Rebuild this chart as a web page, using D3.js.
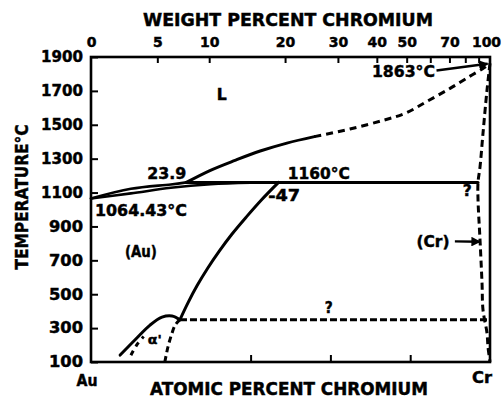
<!DOCTYPE html>
<html>
<head>
<meta charset="utf-8">
<script src="https://cdn.jsdelivr.net/npm/d3@7"></script>
<style>
  html, body { margin: 0; padding: 0; background: #fff; }
  svg { display: block; }
  text { font-family: "DejaVu Sans", sans-serif; font-weight: bold; fill: #000;
         stroke: #000; stroke-width: 0.45px; }
</style>
</head>
<body>
<svg id="chart" width="504" height="402"></svg>
<script>
// Au–Cr phase diagram (temperature vs. atomic percent chromium)

// Key invariant points
const meltAu = 1064.43;     // melting point of Au, °C
const meltCr = 1863;        // melting point of Cr, °C
const periT = 1160;         // peritectic temperature, °C
const periLiquid = 23.9;    // liquid composition at the peritectic, at.% Cr
const periSolid = 47;       // (Au) composition at the peritectic, at.% Cr
const periEnd = 97.0;       // (Cr) side end of the peritectic line
const orderT = 350;         // low-temperature dashed horizontal

// Axes
const tempTicks = [100, 300, 500, 700, 900, 1100, 1300, 1500, 1700, 1900];
const atomicTicks = [40, 60, 80];
const weightTicks = [0, 5, 10, 20, 30, 40, 50, 60, 70, 80, 90, 100];
const weightLabelled = [0, 5, 10, 20, 30, 40, 50, 70, 100];

// Boundaries, [at.% Cr, °C]
const liquidusLow = [[0, meltAu], [10, 1122], [20, 1148], [periLiquid, periT]];
const liquidusSolid = [[periLiquid, periT], [29.8, 1230], [36.1, 1290], [42.4, 1345], [49.1, 1392], [56, 1430]];
const liquidusDashed = [[56, 1430], [64.9, 1475], [73.2, 1526], [78.7, 1567], [84.2, 1638], [90, 1715], [95, 1787], [98.5, 1836], [100, meltCr]];
const solidusAu = [[0, meltAu], [10, 1095], [20, 1128], [30, 1149], [40, 1158], [periSolid, periT]];
const solvusAu = [[periSolid, periT], [42.7, 1056], [38.9, 955], [35.3, 854], [32.1, 753], [29.2, 652], [26.6, 551], [24.3, 449], [22.3, orderT]];
const orderDome = [[7.3, 141], [11, 230], [14.8, 318], [17.8, 365], [20.3, 372], [22.3, orderT]];
const orderLeftDashed = [[10, 140], [11.6, 205], [13.2, 250]];
const orderRightDashed = [[18.5, 100], [19.3, 190], [20.3, 270], [21.1, 318], [22.3, orderT]];
const solvusCr = [[100, meltCr], [99.25, 1705], [98.25, 1451], [97.5, 1251], [periEnd, periT], [97.0, 1056], [97.5, 820], [98.0, 566], [98.25, 407], [99.25, 271], [99.5, 188], [100, 100]];

// Atomic masses, for the weight-percent scale along the top
const massAu = 196.967, massCr = 51.996;
const wtToAt = w => w <= 0 ? 0 : w >= 100 ? 100 :
  100 * (w / massCr) / (w / massCr + (100 - w) / massAu);

const svg = d3.select("#chart");
const L = 91, R = 490, T = 57, B = 362;

const x = d3.scaleLinear().domain([0, 100]).range([L, R]);
const y = d3.scaleLinear().domain([100, 1900]).range([B, T]);

// Frame
svg.append("rect")
  .attr("x", L).attr("y", T).attr("width", R - L).attr("height", B - T)
  .attr("fill", "none").attr("stroke", "#000").attr("stroke-width", 2.6);

// Temperature axis (ticks point inward)
const yAxis = svg.append("g").attr("transform", `translate(${L},0)`)
  .call(d3.axisLeft(y).tickValues(tempTicks).tickSizeInner(-7).tickSizeOuter(0)
    .tickPadding(8).tickFormat(d3.format("d")));
yAxis.select(".domain").remove();
yAxis.selectAll("line").attr("stroke-width", 2);
yAxis.selectAll("text").style("font-size", "15px").style("font-family", "DejaVu Sans")
  .style("font-weight", "bold").attr("textLength", d => d >= 1000 ? 42 : 34)
  .attr("lengthAdjust", "spacingAndGlyphs");

// Atomic-percent ticks along the bottom
const xAxis = svg.append("g").attr("transform", `translate(0,${B})`)
  .call(d3.axisBottom(x).tickValues(atomicTicks).tickSizeInner(-7).tickSizeOuter(0).tickFormat(""));
xAxis.select(".domain").remove();
xAxis.selectAll("line").attr("stroke-width", 2);

// Weight-percent ticks along the top
const topAxis = svg.append("g").attr("transform", `translate(0,${T})`)
  .call(d3.axisTop(x).tickValues(weightTicks.map(wtToAt)).tickSizeInner(-6).tickSizeOuter(0)
    .tickPadding(10)
    .tickFormat((d, i) => weightLabelled.includes(weightTicks[i]) ? String(weightTicks[i]) : ""));
topAxis.select(".domain").remove();
topAxis.selectAll("line").attr("stroke-width", 2)
  .filter((d, i) => weightTicks[i] === 0 || weightTicks[i] === 100).remove();
topAxis.selectAll("text").style("font-size", "14px").style("font-family", "DejaVu Sans")
  .style("font-weight", "bold")
  .attr("dx", (d, i) => weightTicks[i] === 100 ? -4 : 0);

// Axis titles
svg.append("text").attr("x", 288).attr("y", 25.5).attr("text-anchor", "middle")
  .style("font-size", "17px").attr("textLength", 290).attr("lengthAdjust", "spacingAndGlyphs")
  .text("WEIGHT PERCENT CHROMIUM");
svg.append("text").attr("x", 289).attr("y", 394.5).attr("text-anchor", "middle")
  .style("font-size", "17px").attr("textLength", 278).attr("lengthAdjust", "spacingAndGlyphs")
  .text("ATOMIC PERCENT CHROMIUM");
svg.append("text").attr("transform", "translate(27.5,197) rotate(-90)").attr("text-anchor", "middle")
  .style("font-size", "17px").attr("textLength", 145).attr("lengthAdjust", "spacingAndGlyphs")
  .text("TEMPERATURE°C");
svg.append("text").attr("x", 87).attr("y", 386).attr("text-anchor", "middle")
  .style("font-size", "15px").attr("textLength", 21).attr("lengthAdjust", "spacingAndGlyphs").text("Au");
svg.append("text").attr("x", 482).attr("y", 383).attr("text-anchor", "middle")
  .style("font-size", "15px").attr("textLength", 20).attr("lengthAdjust", "spacingAndGlyphs").text("Cr");

// Phase boundaries
const smooth = d3.line().x(d => x(d[0])).y(d => y(d[1])).curve(d3.curveCatmullRom.alpha(0.5));
const straight = d3.line().x(d => x(d[0])).y(d => y(d[1]));
const plot = svg.append("g").attr("fill", "none").attr("stroke", "#000")
  .attr("stroke-width", 3).attr("stroke-linecap", "round").attr("stroke-linejoin", "round");

plot.append("path").attr("d", smooth(liquidusLow)).attr("stroke-width", 2.6);
plot.append("path").attr("d", smooth(solidusAu)).attr("stroke-width", 2.6);
plot.append("path").attr("d", smooth(liquidusSolid));
plot.append("path").attr("d", smooth(liquidusDashed)).attr("stroke-dasharray", "7,5").attr("stroke-linecap", "butt");
plot.append("path").attr("d", straight([[periLiquid, periT], [periEnd, periT]]));
plot.append("path").attr("d", smooth(solvusAu));
plot.append("path").attr("d", smooth(orderDome));
plot.append("path").attr("d", smooth(orderLeftDashed)).attr("stroke-dasharray", "5,5").attr("stroke-linecap", "butt");
plot.append("path").attr("d", smooth(orderRightDashed)).attr("stroke-dasharray", "6,4").attr("stroke-linecap", "butt");
plot.append("path").attr("d", straight([[22.3, orderT], [99.5, orderT]])).attr("stroke-dasharray", "7,3").attr("stroke-linecap", "butt");
plot.append("path").attr("d", smooth(solvusCr)).attr("stroke-dasharray", "7,4").attr("stroke-linecap", "butt");

// Arrowhead marker
svg.append("defs").append("marker").attr("id", "head")
  .attr("viewBox", "0 0 10 10").attr("refX", 9).attr("refY", 5)
  .attr("markerWidth", 4).attr("markerHeight", 4).attr("markerUnits", "strokeWidth")
  .attr("orient", "auto")
  .append("path").attr("d", "M0,0L10,5L0,10Z").attr("fill", "#000");

const arrows = [
  [[86.6, 1820], [99.4, meltCr - 3]],
  [[91.2, 812], [97.5, 810]]
];
arrows.forEach(a => {
  svg.append("path").attr("d", straight(a)).attr("fill", "none").attr("stroke", "#000")
    .attr("stroke-width", 2.4).attr("marker-end", "url(#head)");
});

// Labels, anchored in data coordinates [at.% Cr, °C]
const labels = [
  { t: "L", at: 32.8, temp: 1676, w: 10, a: "middle" },
  { t: String(periLiquid), at: 19.0, temp: 1214, w: 39, a: "middle" },
  { t: `${periT}°C`, at: 57.1, temp: 1214, w: 62, a: "middle" },
  { t: `${meltAu}°C`, at: 1.0, temp: 996, w: 92, a: "start" },
  { t: `-${periSolid}`, at: 44.4, temp: 1082, w: 32, a: "start" },
  { t: "(Au)", at: 12.5, temp: 750, w: 32, a: "middle" },
  { t: "?", at: 94.3, temp: 1112, w: 9, a: "middle" },
  { t: "(Cr)", at: 85.7, temp: 808, w: 33, a: "middle" },
  { t: "?", at: 59.6, temp: 420, w: 8, a: "middle" },
  { t: "α'", at: 16.0, temp: 232, w: 14, a: "middle", s: 12 },
  { t: `${meltCr}°C`, at: 78.3, temp: 1815, w: 63, a: "middle" }
];
svg.append("g").selectAll("text").data(labels).join("text")
  .attr("x", d => x(d.at))
  .attr("y", d => y(d.temp) + 0.36 * (d.s || 15))
  .attr("text-anchor", d => d.a)
  .style("font-size", d => (d.s || 15) + "px")
  .attr("textLength", d => d.w).attr("lengthAdjust", "spacingAndGlyphs")
  .text(d => d.t);
</script>
</body>
</html>
